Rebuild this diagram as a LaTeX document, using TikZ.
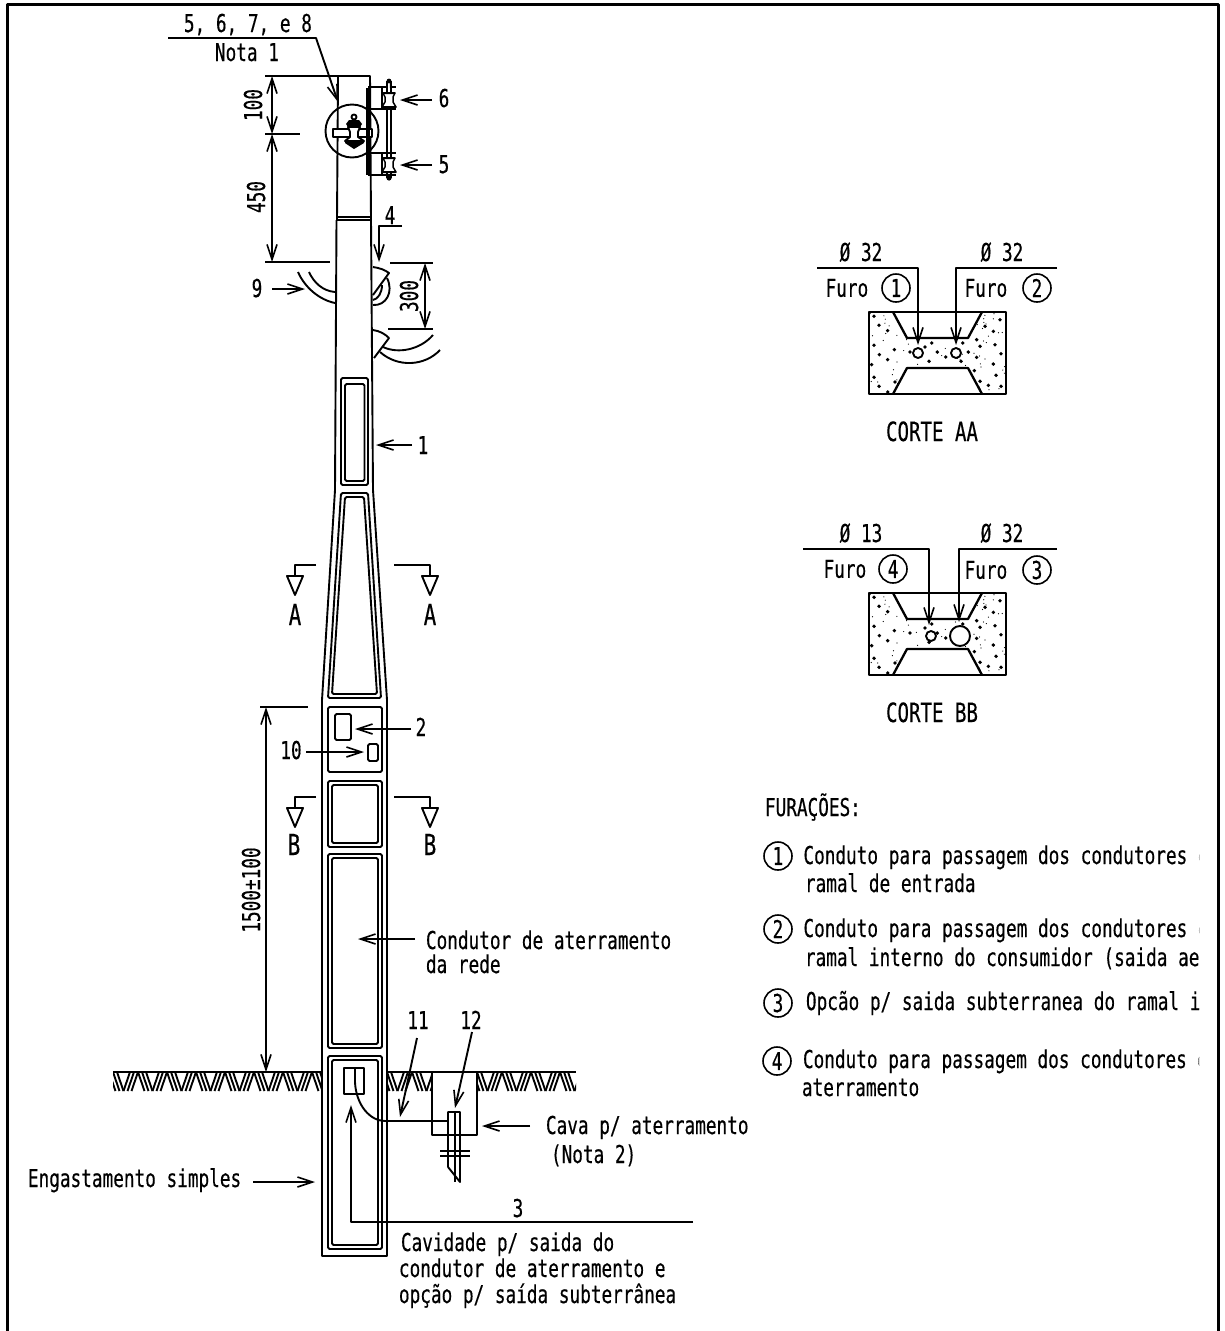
\documentclass[tikz,border=0pt]{standalone}
\usepackage{fontspec}
\setmainfont[FakeStretch=0.72,FakeBold=0.4]{DejaVu Sans Mono}
\usepackage{tikz}
\usetikzlibrary{arrows.meta,positioning}

\newcommand{\furosec}[1]{
  \begin{scope}[shift={(869,#1)}]
    \begin{scope}
      \clip (0,0) -- (24,0) -- (38,26) -- (99,26) -- (113,0) -- (137,0) -- (137,82) -- (113,82) -- (99,56) -- (38,56) -- (24,82) -- (0,82) -- cycle;
      \foreach \px/\py in {282/260,323/303,297/287,282/347,298/375,323/390,275/405,343/360,282/443,297/470,345/457,323/487,
                           390/367,435/352,455/340,497/382,472/367,447/395,543/395,548/340,565/367,
                           660/270,615/290,640/305,590/330,645/345,600/350,590/383,663/372,640/403,583/423,648/437,600/455,625/467,663/470}
        \fill ({(\px-267)/3},{(\py-247)/3}) circle[radius=1.9pt];
      \pgfmathsetseed{17}
      \foreach \k in {1,...,110}{
        \pgfmathsetmacro\qx{rnd*137}
        \pgfmathsetmacro\qy{rnd*82}
        \fill (\qx,\qy) circle[radius=0.6pt];
      }
    \end{scope}
    \draw[heavy] (0,0) rectangle (137,82);
    \draw[heavy] (24,0) -- (38,26) -- (99,26) -- (113,0);
    \draw[heavy] (24,82) -- (38,56) -- (99,56) -- (113,82);
  \end{scope}
}
\newcommand{\spool}[2]{
  \begin{scope}[shift={(#1,#2)}]
    \draw[fill=white,line width=1.5pt] (-6,-7) -- (6,-7) -- (4,-3) -- (4,2) -- (7,7) -- (-7,7) -- (-4,2) -- (-4,-3) -- cycle;
    \fill[rounded corners=1pt] (-6.5,-8) rectangle (6.5,-6);
    \fill[rounded corners=1pt] (-7.5,6) rectangle (7.5,8);
  \end{scope}
}
\newcommand{\hatchstrip}[2]{
  \begin{scope}
    \clip (#1,1073) rectangle (#2,1091);
    \foreach \k in {0,...,8}{
      \pgfmathsetmacro\hx{#1-4+\k*29}
      \foreach \d in {0,4,8}{
        \draw[hatch] (\hx+\d,1072) -- (\hx+\d+6.5,1091);
        \draw[hatch] (\hx+\d+21,1072) -- (\hx+\d+14.5,1091);
      }
    }
  \end{scope}
}

\begin{document}
\begin{tikzpicture}
  [x=1pt,y=-1pt,line width=1.9pt,line join=round,
   every node/.style={font=\fontsize{24.6}{26}\selectfont,inner sep=0pt},
   lab/.style={anchor=base west},
   mid/.style={anchor=base},
   dim/.style={anchor=base,rotate=90},
   num/.style={circle,draw,minimum size=28pt,line width=1.6pt},
   seclet/.style={anchor=base,font=\fontsize{29}{30}\selectfont},
   corte/.style={anchor=base,font=\fontsize{26.5}{28}\selectfont},
   heavy/.style={line width=2.3pt},
   hatch/.style={line width=1.9pt},
   arr/.style={-{Straight Barb[length=15pt,width=10pt,line width=1.6pt]}},
   dimline/.style={{Straight Barb[length=15pt,width=10pt,line width=1.6pt]}-{Straight Barb[length=15pt,width=10pt,line width=1.6pt]}}]
  \useasboundingbox (0,0) rectangle (1224,1331);
  \draw[line width=3pt] (7,1331) -- (7,4) -- (1218,4) -- (1218,1331);

  % poste
  \draw (337,220) -- (338,76) -- (370,76) -- (371,220);
  \draw (336.5,217) -- (371,217) (336.5,220) -- (371,220);
  \draw (336.5,220) -- (335,490) -- (322,700) -- (322,1256) -- (387,1256) -- (387,700) -- (373,490) -- (371,220);
  \draw[rounded corners=1.5pt] (341,378) rectangle (368,485) (345,384) rectangle (364.5,481);
  \draw[rounded corners=1.5pt] (341,493) -- (368,493) -- (381,698) -- (328,698) -- cycle;
  \draw[rounded corners=1.5pt] (345,497) -- (364,497) -- (377,694) -- (332,694) -- cycle;
  \draw[rounded corners=1.5pt] (328,707) rectangle (382,772) (335,714) rectangle (351,740) (368,744) rectangle (378,761);
  \foreach \ya/\yb in {781/847,854/1048,1056/1249}{
    \draw[rounded corners=1.5pt] (328,\ya) rectangle (382,\yb);
    \draw[rounded corners=1.5pt] (332,\ya+4) rectangle (378,\yb-4);
  }
  \draw (344,1068) rectangle (364,1094);

  % solo e cava
  \draw (113,1072) -- (322,1072) (387,1072) -- (576,1072);
  \hatchstrip{113}{322}
  \hatchstrip{387}{432}
  \hatchstrip{477}{576}
  \draw (432,1072) -- (432,1135) -- (477,1135) -- (477,1072);
  \draw (355,1068) -- (355,1082) .. controls (356,1105) and (370,1121) .. (385,1121) -- (448,1121);
  \draw (448,1167) -- (448,1112) -- (460,1112) -- (460,1182) -- (448,1167);
  \draw (455,1112) -- (455,1182);
  \draw (440,1151) -- (470,1151) (440,1156) -- (470,1156);

  % isoladores
  \draw (352,131) circle[radius=26.5pt];
  \draw[fill=white] (333,129) rectangle (372,137);
  \draw[fill=white] (354,117) circle[radius=2.5pt];
  \fill (346,124) -- (349,120) -- (359,120) -- (362,124) -- (360,127) -- (348,127) -- cycle;
  \draw[fill=white] (348,127) -- (360,127) -- (358,132) -- (358,137) -- (364,141) -- (345,141) -- (350,137) -- (350,132) -- cycle;
  \fill (345,141) -- (364,141) -- (364,143) -- (354,149) -- (345,143) -- cycle;
  \draw[line width=3.2pt] (368,88) -- (368,175);
  \draw (368,87) -- (396,87) (368,109) -- (396,109) (368,153) -- (396,153) (368,175) -- (396,175);
  \draw (382,87) -- (382,109) (382,153) -- (382,175);
  \draw[line width=1.3pt] (387,81) -- (387,178) (391,81) -- (391,178);
  \fill[white] (387.7,81) rectangle (390.3,108);
  \fill (389,88) -- (389,81) circle[radius=2.4pt];
  \fill (389,178) circle[radius=2.6pt];
  \spool{389}{100}
  \spool{389}{165}

  % selas e ramal
  \draw (298,272) .. controls (305,288) and (320,300) .. (335,303);
  \draw (309,272) .. controls (314,283) and (323,291) .. (335,292);
  \draw (373,267) .. controls (380,268) and (385,270) .. (389,273) -- (373,295);
  \draw (387,278) .. controls (394,292) and (386,306) .. (373,305);
  \draw (382,285) .. controls (382,293) and (378,299) .. (373,300);
  \draw (373,330) .. controls (380,331) and (385,334) .. (389,338) -- (374,358);
  \draw (383,347) .. controls (398,354) and (420,350) .. (433,335);
  \draw (380,352) .. controls (398,368) and (425,366) .. (440,350);

  % cotas
  \draw (265,76) -- (338,76) (265,134) -- (300,134) (265,262) -- (330,262);
  \draw (390,263) -- (433,263) (388,329) -- (433,329) (260,707) -- (308,707);
  \coordinate (c100a) at (272,76);
  \coordinate (c100b) at (272,134);
  \coordinate (c450b) at (272,262);
  \coordinate (c300a) at (425,263);
  \coordinate (c300b) at (425,329);
  \coordinate (c1500a) at (266,707);
  \coordinate (c1500b) at (266,1072);
  \foreach \from/\to in {c100a/c100b,c100b/c450b,c300a/c300b,c1500a/c1500b}
    \draw[dimline] (\from) -- (\to);
  \node[dim] (d100) at (262,105) {100};
  \node[dim] (d450) at (265,197) {450};
  \node[dim] (d300) at (418,296) {300};
  \node[dim] (d1500) at (260,890) {1500±100};

  % setas
  \foreach \name/\ax/\ay/\bx/\by in {a6/432/100/400/100,a5/432/165/400/165,a9/272/289/305/289,a1/412/445/376/445,
      a2/411/729/355/729,a10/306/752/364/752,aC/415/939/358/939,aE/253/1182/315/1182,aG/530/1126/482/1126,
      a11/417/1038/400/1117,a12/472/1032/455/1108}{
    \coordinate (\name s) at (\ax,\ay);
    \coordinate (\name t) at (\bx,\by);
    \draw[arr] (\name s) -- (\name t);
  }
  \coordinate (ldr) at (168,38);
  \coordinate (ldrk) at (316,38);
  \coordinate (ldrt) at (338,102);
  \draw[arr] (ldr) -- (ldrk) -- (ldrt);
  \coordinate (ld4) at (402,226);
  \coordinate (ld4k) at (379,226);
  \coordinate (ld4t) at (379,262);
  \draw[arr] (ld4) -- (ld4k) -- (ld4t);
  \coordinate (ld3) at (693,1222);
  \coordinate (ld3k) at (351,1222);
  \coordinate (ld3t) at (351,1105);
  \draw[arr] (ld3) -- (ld3k) -- (ld3t);

  % indicadores de corte
  \foreach \yy/\sec in {565/A,797/B}{
    \draw (316,\yy) -- (295,\yy) -- (295,\yy+11);
    \draw (287,\yy+11) -- (303,\yy+11) -- (295,\yy+30) -- cycle;
    \draw (394,\yy) -- (430,\yy) -- (430,\yy+11);
    \draw (422,\yy+11) -- (438,\yy+11) -- (430,\yy+30) -- cycle;
  }
  \node[seclet] (secAl) at (295,625) {A};
  \node[seclet] (secAr) at (430,625) {A};
  \node[seclet] (secBl) at (294,855) {B};
  \node[seclet] (secBr) at (430,855) {B};

  % rotulos
  \node[lab] (top) at (183,32) {5, 6, 7, e 8};
  \node[lab] (nota) at (214,61) {Nota 1};
  \node[mid] (n6) at (444,107) {6};
  \node[mid] (n5) at (444,173) {5};
  \node[mid] (n4) at (390,224) {4};
  \node[mid] (n9) at (257,297) {9};
  \node[mid] (n1) at (423,454) {1};
  \node[mid] (n2) at (421,736) {2};
  \node[mid] (n10) at (291,759) {10};
  \node[mid] (n11) at (418,1029) {11};
  \node[mid] (n12) at (471,1029) {12};
  \node[mid] (n3) at (518,1217) {3};
  \node[lab] (cond) at (425,949) {Condutor de aterramento};
  \node[lab] (rede) at (425,973) {da rede};
  \node[lab] (cava) at (545,1134) {Cava p/ aterramento};
  \node[lab] (nota2) at (550,1163) {(Nota 2)};
  \node[lab] (enga) at (27,1187) {Engastamento simples};
  \node[lab] (cav1) at (400,1251) {Cavidade p/ saida do};
  \node[lab] (cav2) at (398,1277) {condutor de aterramento e};
  \node[lab] (cav3) at (398,1303) {opção p/ saída subterrânea};

  % cortes
  \furosec{312}
  \furosec{593}
  \foreach \hx/\hy/\hr in {918/353/5,956/353/5,931/636/5,960/636/10}
    \draw[fill=white] (\hx,\hy) circle[radius=\hr pt];
  \foreach \name/\ax/\ay/\kx/\ty in {h1/817/268/918/345,h2/1057/268/956/345,h4/803/549/929/625,h3/1057/549/959/622}{
    \coordinate (\name s) at (\ax,\ay);
    \coordinate (\name k) at (\kx,\ay);
    \coordinate (\name t) at (\kx,\ty);
    \draw[arr] (\name s) -- (\name k) -- (\name t);
  }
  \node[mid] (dA1) at (861,261) {Ø 32};
  \node[mid] (dA2) at (1002,261) {Ø 32};
  \node[mid] (dB4) at (861,542) {Ø 13};
  \node[mid] (dB3) at (1002,542) {Ø 32};
  \node[num] (cA1) at (896,288) {1};
  \node[num] (cA2) at (1037,288) {2};
  \node[num] (cB4) at (893,569) {4};
  \node[num] (cB3) at (1037,570) {3};
  \foreach \c/\dist in {cA1/12,cA2/14,cB4/11,cB3/14}
    \node[left=\dist pt of \c] (f\c) {Furo};
  \node[corte] (sAA) at (932,441) {CORTE AA};
  \node[corte] (sBB) at (932,722) {CORTE BB};

  % furacoes
  \node[lab] (fur) at (764,816) {FURAÇÕES:};
  \node[num] (l1) at (778,856) {1};
  \node[num] (l2) at (778,929) {2};
  \node[num] (l3) at (778,1003) {3};
  \node[num] (l4) at (777,1061) {4};
  \begin{scope}
    \clip (790,840) rectangle (1199,1110);
    \node[lab] (t1a) at (802.5,864) {Conduto para passagem dos condutores d};
    \node[lab] (t1b) at (804,892) {ramal de entrada};
    \node[lab] (t2a) at (802.5,937) {Conduto para passagem dos condutores d};
    \node[lab] (t2b) at (804,966) {ramal interno do consumidor (saida aer};
    \node[lab] (t3a) at (805,1010) {Opcão p/ saida subterranea do ramal in};
    \node[lab] (t4a) at (802,1068) {Conduto para passagem dos condutores d};
    \node[lab] (t4b) at (801,1096) {aterramento};
  \end{scope}
\end{tikzpicture}
\end{document}
